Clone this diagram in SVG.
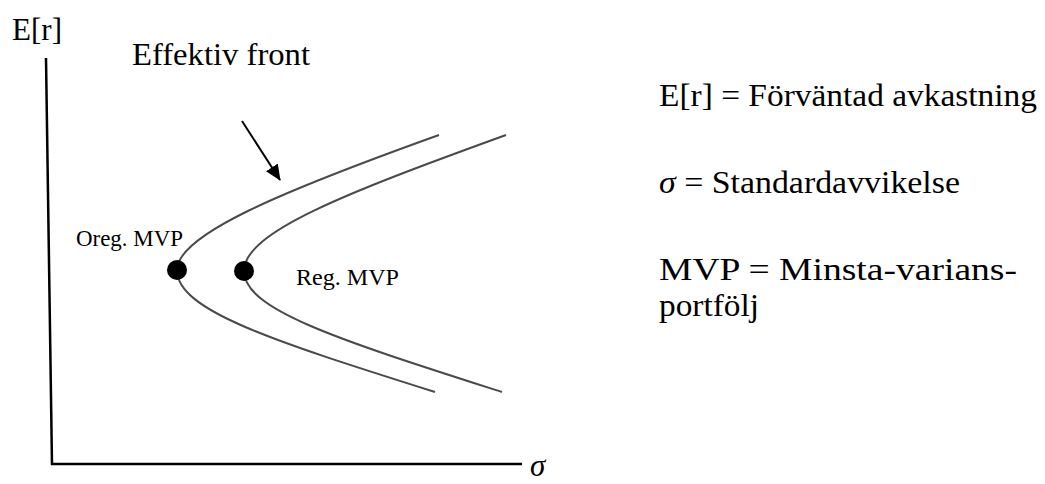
<svg xmlns="http://www.w3.org/2000/svg" width="1045" height="484" viewBox="0 0 1045 484">
  <style>
    .lbl { font-family: "Liberation Serif", "DejaVu Serif", serif; fill: #000; }
    .big { font-size: 31px; }
    .small { font-size: 24px; }
    .axis { stroke: #000; stroke-width: 2.5; fill: none; }
    .front { stroke: #4a4a4a; stroke-width: 2; fill: none; }
    .dot { fill: #000; }
  </style>
  <defs>
    <marker id="arrowTip" viewBox="0 0 16 14" refX="15" refY="7" markerWidth="16" markerHeight="14" markerUnits="userSpaceOnUse" orient="auto">
      <path d="M0,0 L16,7 L0,14 z" fill="#000"/>
    </marker>
  </defs>

  <!-- axes -->
  <g id="axes">
    <line class="axis" x1="46" y1="58" x2="52" y2="465"/>
    <line class="axis" x1="51" y1="464" x2="522" y2="464"/>
    <text class="lbl big" x="12" y="40" textLength="50" lengthAdjust="spacingAndGlyphs">E[r]</text>
    <text class="lbl big" x="530" y="476" font-style="italic">σ</text>
  </g>

  <!-- unregulated frontier -->
  <g id="frontier-oreg">
    <path class="front" d="M177,270 C177,235 280,192 439,135"/>
    <path class="front" d="M177,270 C177,310 270,340 435,392"/>
    <circle class="dot" cx="177" cy="270" r="10"/>
    <text class="lbl small" x="76" y="246" textLength="107" lengthAdjust="spacingAndGlyphs">Oreg. MVP</text>
  </g>

  <!-- regulated frontier -->
  <g id="frontier-reg">
    <path class="front" d="M244,271 C244,232 346,193 506,135"/>
    <path class="front" d="M244,271 C244,310 340,340 502,392"/>
    <circle class="dot" cx="244" cy="271" r="10"/>
    <text class="lbl small" x="296" y="285" textLength="103" lengthAdjust="spacingAndGlyphs">Reg. MVP</text>
  </g>

  <!-- label pointing to the efficient frontier -->
  <g id="label-front">
    <text class="lbl big" x="132" y="65" textLength="178" lengthAdjust="spacingAndGlyphs">Effektiv front</text>
  </g>

  <g id="connectors">
    <line x1="242" y1="121" x2="280" y2="180" stroke="#000" stroke-width="2" marker-end="url(#arrowTip)"/>
  </g>

  <!-- legend -->
  <g id="legend">
    <text class="lbl big" x="659" y="106" textLength="378" lengthAdjust="spacingAndGlyphs">E[r] = Förväntad avkastning</text>
    <text class="lbl big" x="659" y="193" textLength="301" lengthAdjust="spacingAndGlyphs"><tspan font-style="italic">σ</tspan> = Standardavvikelse</text>
    <text class="lbl big" x="659" y="280" textLength="358" lengthAdjust="spacingAndGlyphs">MVP = Minsta-varians-</text>
    <text class="lbl big" x="659" y="316" textLength="100" lengthAdjust="spacingAndGlyphs">portfölj</text>
  </g>
</svg>
